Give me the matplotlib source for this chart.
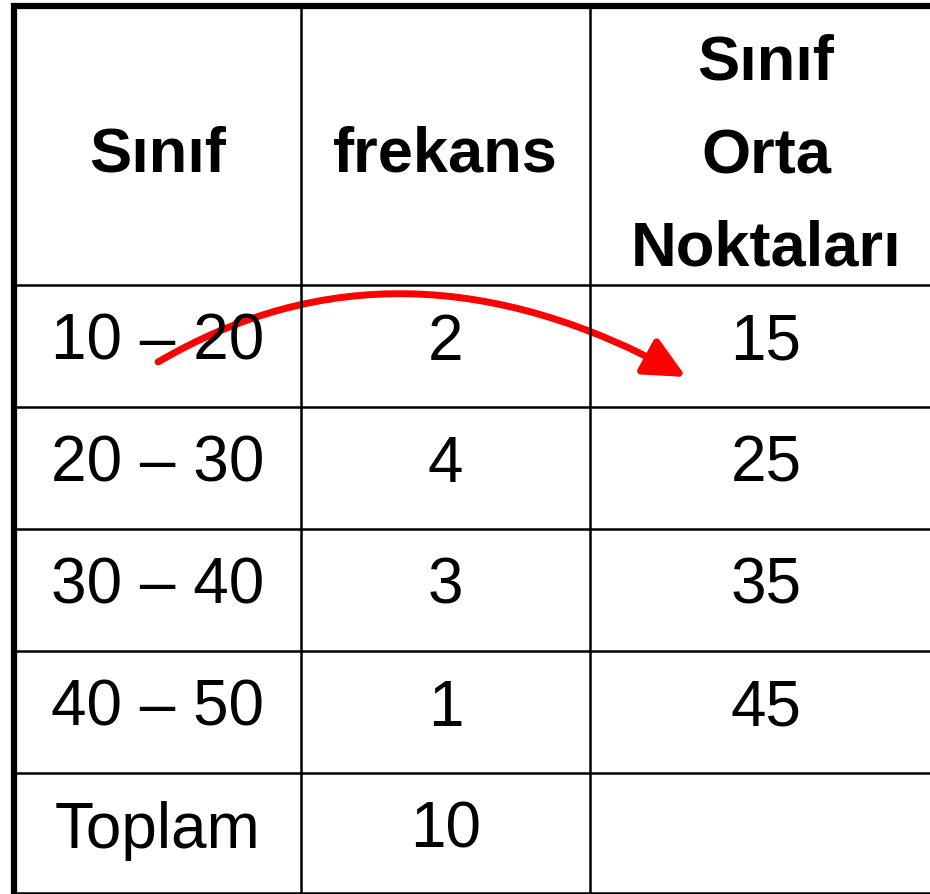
import matplotlib.pyplot as plt
from matplotlib.path import Path
from matplotlib.patches import FancyArrowPatch

plt.rcParams['font.family'] = ['Liberation Sans', 'DejaVu Sans']

headers = ["Sınıf", "frekans", "Sınıf\nOrta\nNoktaları"]
classes = ["10 – 20", "20 – 30", "30 – 40", "40 – 50", "Toplam"]
freqs = ["2", "4", "3", "1", "10"]
midpoints = ["15", "25", "35", "45", ""]

# table geometry in pixels
col_edges = [14, 301, 590, 942]
row_edges = [6, 285, 407, 529, 651, 773, 893]

fig = plt.figure(figsize=(9.3, 8.94), dpi=100)
ax = fig.add_axes([0, 0, 1, 1])
ax.set_xlim(0, 930)
ax.set_ylim(894, 0)
ax.axis('off')

# grid lines
for y in row_edges[1:]:
    ax.plot([col_edges[0], 930], [y, y], color='black', lw=1.8, solid_capstyle='butt')
for x in col_edges[1:3]:
    ax.plot([x, x], [row_edges[0], row_edges[-1]], color='black', lw=1.8, solid_capstyle='butt')
# thick outer border (left and top)
ax.plot([col_edges[0], col_edges[0]], [3, 894], color='black', lw=4.5, solid_capstyle='butt')
ax.plot([11, 930], [row_edges[0], row_edges[0]], color='black', lw=4.5, solid_capstyle='butt')

centers = [(col_edges[i] + col_edges[i + 1]) / 2 for i in range(3)]
centers[2] = 766

# header
ax.text(centers[0], 172, headers[0], ha='center', va='baseline', fontsize=45.5, fontweight='bold')
ax.text(centers[1], 172, headers[1], ha='center', va='baseline', fontsize=45.5, fontweight='bold')
for line, yb in zip(headers[2].split("\n"), [80, 173, 265]):
    ax.text(centers[2], yb, line, ha='center', va='baseline', fontsize=45.5, fontweight='bold')

# body
for i in range(len(classes)):
    yb = row_edges[i + 1] + 75
    for j, val in enumerate([classes[i], freqs[i], midpoints[i]]):
        ax.text(centers[j], yb, val, ha='center', va='baseline', fontsize=46)

# red curved arrow
verts = [(158, 362), (400, 220), (686, 377)]
path = Path(verts, [Path.MOVETO, Path.CURVE3, Path.CURVE3])
arrow = FancyArrowPatch(path=path, arrowstyle='-|>,head_length=2.5,head_width=1.2',
                        mutation_scale=10, color='#ff0000', lw=5)
ax.add_patch(arrow)

fig.savefig('out.png', dpi=100)
